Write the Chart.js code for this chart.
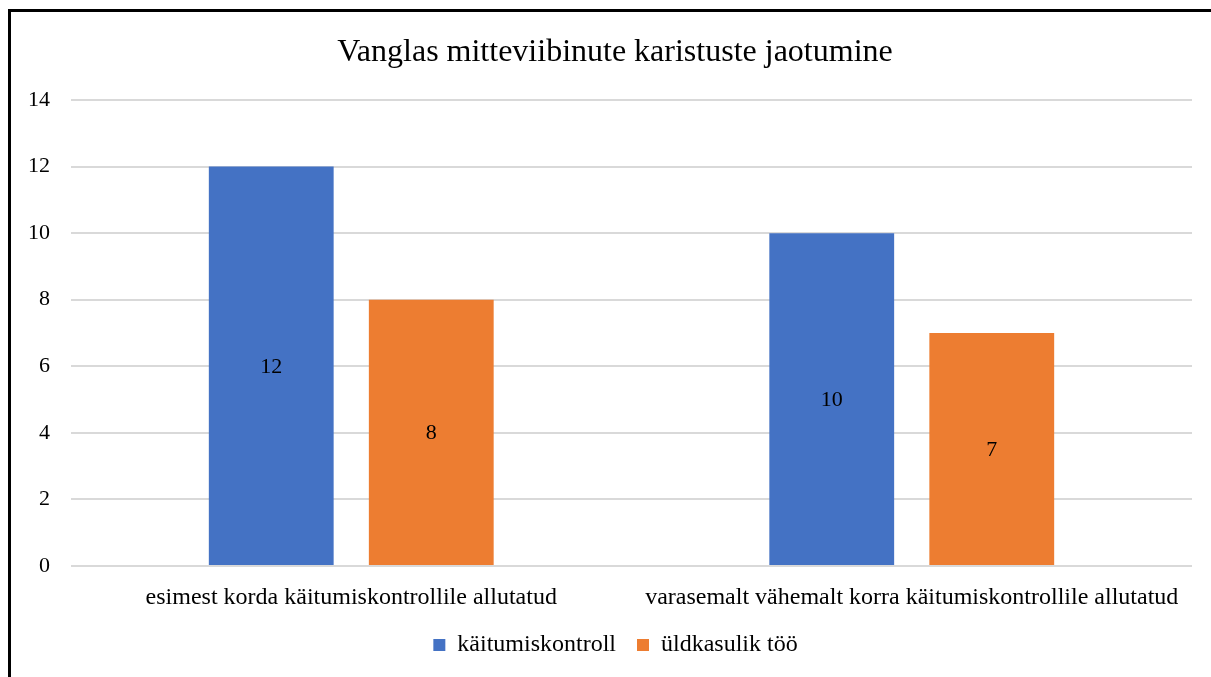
<!DOCTYPE html>
<html>
<head>
<meta charset="utf-8">
<script src="https://cdn.jsdelivr.net/npm/chart.js@4/dist/chart.umd.min.js"></script>
<style>
  html, body { margin: 0; padding: 0; background: #fff; }
  #wrap { position: relative; width: 1211px; height: 677px; overflow: hidden; }
  #frame { position: absolute; left: 8px; top: 9px; width: 1220px; height: 700px; border-left: 3px solid #000; border-top: 3px solid #000; box-sizing: border-box; pointer-events: none; }
  canvas { position: absolute; left: 0; top: 0; }
</style>
</head>
<body>
<div id="wrap">
  <canvas id="c" width="1211" height="677"></canvas>
  <div id="frame"></div>
</div>
<script>
const titleText = "Vanglas mitteviibinute karistuste jaotumine";
const categories = ["esimest korda käitumiskontrollile allutatud", "varasemalt vähemalt korra käitumiskontrollile allutatud"];
const seriesNames = ["käitumiskontroll", "üldkasulik töö"];
const kaitumiskontroll = [12, 10];
const uldkasulikToo = [8, 7];
const yTicks = [0, 2, 4, 6, 8, 10, 12, 14];

const FONT = "'Liberation Serif', 'Times New Roman', serif";

const centerLabels = {
  id: 'centerLabels',
  afterLayout(chart) {
    // centre title and legend over the whole frame, as in the original
    if (chart.titleBlock) chart.titleBlock.left += 28;
    if (chart.legend) chart.legend.left += 29;
  },
  afterDatasetsDraw(chart) {
    const ctx = chart.ctx;
    ctx.save();
    ctx.font = "22px " + FONT;
    ctx.fillStyle = "#000";
    ctx.textAlign = "center";
    ctx.textBaseline = "middle";
    chart.data.datasets.forEach((ds, i) => {
      const meta = chart.getDatasetMeta(i);
      meta.data.forEach((bar, j) => {
        const p = bar.getProps(['x', 'y', 'base'], true);
        ctx.fillText(String(ds.data[j]), p.x, (p.y + p.base) / 2 + 1);
      });
    });
    ctx.restore();
  }
};

new Chart(document.getElementById('c'), {
  type: 'bar',
  data: {
    labels: categories,
    datasets: [
      { label: seriesNames[0], data: kaitumiskontroll, backgroundColor: '#4472C4', categoryPercentage: 0.571, barPercentage: 0.78 },
      { label: seriesNames[1], data: uldkasulikToo, backgroundColor: '#ED7D31', categoryPercentage: 0.571, barPercentage: 0.78 }
    ]
  },
  options: {
    responsive: false,
    animation: false,
    layout: { padding: { top: 33, left: 10, right: 19, bottom: 10 } },
    plugins: {
      title: {
        display: true, text: titleText, color: '#000',
        font: { family: FONT, size: 32, weight: 'normal' },
        padding: { top: 0, bottom: 28.6 }
      },
      legend: {
        position: 'bottom',
        labels: {
          color: '#000',
          font: { family: FONT, size: 24 },
          boxWidth: 12, boxHeight: 12, padding: 21
        }
      },
      tooltip: { enabled: false }
    },
    scales: {
      x: {
        grid: { display: false, drawTicks: false },
        border: { display: false },
        afterFit(scale) { scale.height = 46; },
        ticks: { color: '#000', font: { family: FONT, size: 24 }, padding: 17, maxRotation: 0 }
      },
      y: {
        min: 0, max: 14,
        afterBuildTicks(scale) { scale.ticks = yTicks.map(v => ({ value: v })); },
        afterFit(scale) { scale.width = 61; },
        grid: { color: '#d9d9d9', lineWidth: 2, drawTicks: false },
        border: { display: false },
        ticks: { color: '#000', font: { family: FONT, size: 22 }, padding: 21 }
      }
    }
  },
  plugins: [centerLabels]
});
</script>
</body>
</html>
